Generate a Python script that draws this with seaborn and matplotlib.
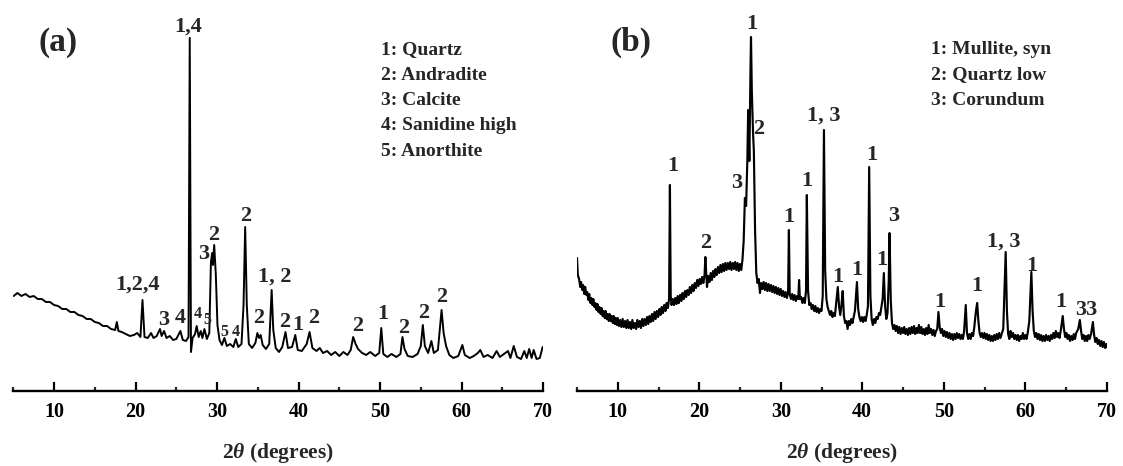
import matplotlib
matplotlib.use('Agg')
import matplotlib.pyplot as plt
import seaborn as sns
import pandas as pd
from matplotlib.ticker import MultipleLocator

# ---- panel (a) trace: 2theta (deg) and intensity (a.u.) ----
a_theta = [
    5.05, 5.5, 6.0, 6.5, 7.0, 7.5, 8.0, 8.5, 9.0, 9.5,
    10.0, 10.5, 11.0, 11.5, 12.0, 12.5, 13.0, 13.5, 14.0, 14.5,
    15.0, 15.5, 16.0, 16.5, 17.0, 17.5, 17.7, 17.9, 18.3, 18.8,
    19.3, 19.8, 20.2, 20.6, 20.85, 21.1, 21.5, 21.9, 22.2, 22.6,
    23.0, 23.2, 23.5, 23.8, 24.2, 24.6, 25.0, 25.5, 25.8, 26.2,
    26.5, 26.65, 26.8, 27.0, 27.3, 27.5, 27.75, 28.0, 28.2, 28.45,
    28.75, 29.05, 29.25, 29.4, 29.5, 29.65, 29.85, 30.05, 30.3, 30.6,
    30.9, 31.2, 31.6, 32.0, 32.3, 32.6, 33.0, 33.25, 33.45, 33.65,
    33.9, 34.3, 34.7, 34.95, 35.15, 35.35, 35.6, 36.0, 36.4, 36.7,
    36.9, 37.2, 37.6, 38.0, 38.4, 38.7, 39.2, 39.6, 39.9, 40.4,
    41.0, 41.35, 41.7, 42.2, 42.6, 43.0, 43.5, 44.0, 44.5, 45.0,
    45.5, 46.0, 46.4, 46.7, 47.0, 47.3, 47.8, 48.3, 48.8, 49.4,
    49.9, 50.15, 50.4, 50.9, 51.4, 52.0, 52.5, 52.75, 53.0, 53.4,
    54.0, 54.6, 55.0, 55.25, 55.5, 55.9, 56.3, 56.6, 57.1, 57.55,
    57.8, 58.1, 58.5, 59.0, 59.6, 60.1, 60.4, 61.0, 61.5, 62.0,
    62.3, 62.7, 63.2, 63.8, 64.3, 64.7, 65.2, 65.7, 66.0, 66.4,
    66.8, 67.3, 67.7, 68.0, 68.3, 68.6, 68.85, 69.2, 69.6, 69.95,
]
a_int = [
    95, 98, 95, 97, 94, 95, 92, 92, 89, 89,
    86, 85, 82, 82, 79, 79, 76, 75, 72, 72,
    69, 68, 65, 65, 62, 61, 69, 60, 59, 57,
    55, 56, 58, 54, 91, 54, 53, 58, 53, 55,
    62, 55, 60, 53, 55, 51, 52, 60, 51, 50,
    54, 353, 39, 53, 57, 65, 54, 60, 53, 62,
    52, 58, 129, 138, 126, 146, 116, 66, 51, 46,
    53, 45, 47, 44, 52, 44, 47, 86, 164, 86,
    47, 43, 48, 58, 53, 56, 46, 42, 47, 101,
    61, 43, 39, 44, 59, 43, 44, 56, 41, 40,
    47, 59, 43, 40, 43, 38, 40, 36, 39, 35,
    39, 36, 41, 54, 47, 42, 38, 36, 39, 35,
    38, 63, 37, 34, 37, 34, 37, 54, 42, 35,
    34, 37, 45, 66, 45, 38, 50, 38, 41, 81,
    58, 45, 36, 33, 35, 46, 36, 33, 35, 38,
    41, 34, 36, 33, 40, 34, 37, 40, 33, 45,
    34, 32, 40, 33, 42, 33, 41, 32, 33, 44,
]

# ---- panel (b) trace ----
b_theta = [
    5.0, 5.1, 5.25, 5.4, 5.5, 5.65, 5.75, 5.9, 6.0, 6.15,
    6.25, 6.4, 6.5, 6.65, 6.75, 6.9, 7.0, 7.15, 7.25, 7.4,
    7.5, 7.65, 7.75, 7.9, 8.0, 8.15, 8.25, 8.4, 8.5, 8.65,
    8.75, 8.9, 9.0, 9.15, 9.25, 9.4, 9.5, 9.65, 9.75, 9.9,
    10.0, 10.15, 10.3, 10.45, 10.6, 10.75, 10.9, 11.05, 11.2, 11.35,
    11.5, 11.65, 11.8, 11.95, 12.1, 12.25, 12.4, 12.55, 12.7, 12.85,
    13.0, 13.15, 13.3, 13.45, 13.6, 13.75, 13.9, 14.05, 14.2, 14.35,
    14.5, 14.65, 14.8, 14.95, 15.1, 15.25, 15.4, 15.55, 15.7, 15.85,
    16.0, 16.15, 16.3, 16.4, 16.5, 16.6, 16.75, 16.9, 17.05, 17.2,
    17.35, 17.5, 17.65, 17.8, 17.95, 18.1, 18.25, 18.4, 18.55, 18.7,
    18.85, 19.0, 19.15, 19.3, 19.45, 19.6, 19.75, 19.9, 20.05, 20.2,
    20.35, 20.5, 20.65, 20.75, 20.85, 20.95, 21.1, 21.25, 21.4, 21.55,
    21.7, 21.85, 22.0, 22.15, 22.3, 22.45, 22.6, 22.75, 22.9, 23.05,
    23.2, 23.35, 23.5, 23.65, 23.8, 23.95, 24.1, 24.25, 24.4, 24.55,
    24.7, 24.85, 25.0, 25.15, 25.3, 25.45, 25.6, 25.75, 25.9, 26.0,
    26.15, 26.3, 26.35, 26.45, 26.6, 26.7, 26.85, 27.0, 27.15, 27.3,
    27.45, 27.6, 27.75, 27.9, 28.05, 28.2, 28.35, 28.5, 28.65, 28.8,
    28.95, 29.1, 29.25, 29.4, 29.55, 29.7, 29.85, 30.0, 30.15, 30.3,
    30.45, 30.6, 30.75, 30.9, 31.0, 31.1, 31.25, 31.4, 31.55, 31.7,
    31.85, 32.0, 32.15, 32.25, 32.35, 32.5, 32.65, 32.8, 32.95, 33.1,
    33.2, 33.35, 33.5, 33.65, 33.8, 33.95, 34.1, 34.25, 34.4, 34.55,
    34.7, 34.85, 35.0, 35.15, 35.3, 35.45, 35.6, 35.75, 35.9, 36.05,
    36.2, 36.35, 36.5, 36.65, 36.8, 37.0, 37.15, 37.3, 37.45, 37.6,
    37.75, 37.9, 38.05, 38.2, 38.35, 38.5, 38.65, 38.8, 38.95, 39.1,
    39.35, 39.5, 39.65, 39.8, 39.95, 40.1, 40.25, 40.4, 40.55, 40.7,
    40.85, 41.0, 41.15, 41.3, 41.45, 41.6, 41.75, 41.9, 42.05, 42.2,
    42.35, 42.5, 42.65, 42.8, 42.95, 43.1, 43.25, 43.35, 43.5, 43.65,
    43.8, 43.95, 44.1, 44.25, 44.4, 44.55, 44.7, 44.85, 45.0, 45.15,
    45.3, 45.45, 45.6, 45.75, 45.9, 46.05, 46.2, 46.35, 46.5, 46.65,
    46.8, 46.95, 47.1, 47.25, 47.4, 47.55, 47.7, 47.85, 48.0, 48.15,
    48.3, 48.45, 48.6, 48.75, 48.9, 49.05, 49.2, 49.35, 49.5, 49.65,
    49.8, 49.95, 50.1, 50.25, 50.4, 50.55, 50.7, 50.85, 51.0, 51.15,
    51.3, 51.45, 51.6, 51.75, 51.9, 52.05, 52.2, 52.35, 52.5, 52.7,
    52.85, 53.0, 53.15, 53.3, 53.45, 53.6, 53.75, 53.95, 54.1, 54.25,
    54.4, 54.55, 54.7, 54.85, 55.0, 55.15, 55.3, 55.45, 55.6, 55.75,
    55.9, 56.05, 56.2, 56.35, 56.5, 56.65, 56.8, 56.95, 57.1, 57.3,
    57.45, 57.6, 57.75, 57.9, 58.05, 58.2, 58.35, 58.5, 58.65, 58.8,
    58.95, 59.1, 59.25, 59.4, 59.55, 59.7, 59.85, 60.0, 60.15, 60.3,
    60.5, 60.75, 60.9, 61.05, 61.2, 61.35, 61.5, 61.65, 61.8, 61.95,
    62.1, 62.25, 62.4, 62.55, 62.7, 62.85, 63.0, 63.15, 63.3, 63.45,
    63.6, 63.75, 63.9, 64.05, 64.2, 64.35, 64.6, 64.75, 64.9, 65.05,
    65.2, 65.35, 65.5, 65.65, 65.8, 65.95, 66.1, 66.25, 66.5, 66.7,
    66.85, 67.0, 67.15, 67.3, 67.45, 67.6, 67.75, 67.9, 68.1, 68.3,
    68.45, 68.6, 68.75, 68.9, 69.05, 69.2, 69.35, 69.5, 69.65, 69.8,
    69.95, 70.0,
]
b_int = [
    133, 116, 112, 104, 109, 101, 106, 97, 104, 96,
    99, 91, 97, 88, 93, 86, 92, 84, 88, 81,
    87, 79, 84, 77, 83, 75, 80, 73, 80, 72,
    77, 70, 77, 70, 75, 68, 75, 67, 73, 66,
    73, 65, 71, 64, 72, 64, 70, 63, 71, 63,
    69, 62, 71, 63, 68, 62, 71, 64, 70, 63,
    72, 65, 72, 66, 74, 67, 75, 69, 77, 70,
    79, 72, 80, 74, 82, 76, 84, 78, 86, 80,
    88, 83, 92, 206, 95, 86, 92, 86, 93, 87,
    95, 88, 96, 90, 98, 92, 100, 94, 101, 96,
    104, 98, 106, 100, 108, 103, 111, 105, 112, 107,
    114, 108, 116, 134, 118, 104, 115, 109, 118, 111,
    120, 114, 122, 116, 124, 118, 126, 119, 127, 120,
    128, 121, 128, 122, 129, 121, 128, 122, 129, 121,
    128, 120, 127, 121, 131, 150, 193, 185, 230, 281,
    230, 330, 354, 300, 258, 240, 160, 118, 108, 112,
    98, 108, 102, 109, 101, 108, 100, 107, 100, 106,
    99, 105, 98, 104, 97, 103, 96, 102, 95, 100,
    94, 99, 93, 98, 161, 97, 92, 97, 91, 96,
    90, 95, 92, 111, 92, 94, 88, 93, 88, 100,
    196, 100, 86, 88, 82, 86, 80, 85, 79, 83,
    78, 82, 80, 95, 261, 120, 92, 84, 80, 76,
    80, 74, 78, 75, 88, 104, 85, 76, 86, 100,
    75, 68, 70, 62, 70, 66, 72, 68, 74, 80,
    109, 82, 74, 70, 74, 69, 74, 70, 76, 85,
    224, 95, 72, 66, 72, 68, 74, 72, 78, 76,
    84, 92, 118, 85, 72, 78, 110, 158, 90, 68,
    62, 66, 60, 65, 58, 64, 57, 63, 58, 64,
    57, 62, 56, 63, 57, 64, 58, 65, 57, 63,
    58, 66, 58, 64, 57, 62, 56, 63, 57, 66,
    58, 62, 56, 61, 55, 60, 62, 79, 64, 58,
    62, 55, 60, 54, 59, 53, 58, 52, 57, 51,
    57, 52, 58, 53, 57, 52, 56, 52, 60, 86,
    58, 52, 57, 52, 58, 55, 64, 80, 88, 70,
    58, 54, 58, 53, 58, 52, 57, 51, 56, 50,
    55, 50, 56, 51, 57, 52, 58, 53, 57, 62,
    100, 139, 80, 57, 52, 60, 54, 58, 52, 56,
    51, 56, 50, 55, 52, 58, 52, 56, 52, 58,
    70, 119, 80, 60, 54, 58, 52, 57, 51, 56,
    50, 55, 50, 56, 51, 55, 50, 56, 52, 58,
    53, 60, 54, 58, 53, 60, 75, 62, 54, 58,
    52, 56, 50, 55, 51, 57, 52, 58, 62, 71,
    60, 52, 56, 50, 55, 50, 56, 52, 58, 69,
    56, 49, 53, 47, 51, 45, 50, 44, 49, 43,
    47, 44,
]

# ---- peak labels (text, 2theta, intensity) ----
a_peak_text = ["1,4", "1,2,4", "3", "4", "3", "2", "2", "1, 2", "2", "2",
               "1", "2", "2", "1", "2", "2", "2"]
a_peak_x = [26.4, 20.2, 23.5, 25.45, 28.3, 29.6, 33.55, 37.1, 35.1, 38.3,
            39.9, 41.8, 47.2, 50.3, 52.9, 55.4, 57.6]
a_peak_y = [364, 106, 71, 73, 137, 156, 175, 114, 73, 69,
            66, 73, 65, 77, 63, 78, 94]
a_minor_text = ["4", "5", "5", "4"]
a_minor_x = [27.65, 28.8, 30.85, 32.3]
a_minor_y = [77, 71, 59, 59]

b_peak_text = ["1", "2", "3", "1", "2", "1", "1", "1, 3", "1", "1",
               "1", "1", "3", "1", "1", "1, 3", "1", "1", "33"]
b_peak_x = [16.8, 20.8, 24.6, 26.5, 27.3, 31.0, 33.2, 35.3, 37.0, 39.35,
            41.2, 42.4, 43.8, 49.5, 54.1, 57.4, 60.8, 64.4, 67.45]
b_peak_y = [225, 148, 208, 367, 262, 174, 210, 275, 114, 121,
            236, 131, 175, 89, 105, 149, 125, 89, 81]

a_phases = ["1: Quartz", "2: Andradite", "3: Calcite", "4: Sanidine high", "5: Anorthite"]
b_phases = ["1: Mullite, syn", "2: Quartz low", "3: Corundum"]

sns.set_style('white')
plt.rcParams['font.family'] = ['Liberation Serif', 'DejaVu Serif']
plt.rcParams['font.weight'] = 'bold'
plt.rcParams['mathtext.fontset'] = 'custom'
plt.rcParams['mathtext.rm'] = 'Liberation Serif:bold'
plt.rcParams['mathtext.it'] = 'Liberation Serif:italic:bold'

W, H = 1123, 466
AX_H = 391


def draw_panel(ax, theta, inten, texts, xs, ys, phases, phase_x, tag, tag_x, lw):
    df = pd.DataFrame({'theta': theta, 'intensity': inten})
    sns.lineplot(data=df, x='theta', y='intensity', ax=ax, color='black',
                 linewidth=lw, estimator=None, sort=False)
    ax.set_xlim(5, 70)
    ax.set_ylim(0, AX_H)
    sns.despine(ax=ax, left=True)
    ax.spines['bottom'].set_linewidth(1.7)
    ax.spines['bottom'].set_color('black')
    ax.xaxis.set_major_locator(MultipleLocator(10))
    ax.xaxis.set_minor_locator(MultipleLocator(5))
    ax.tick_params(axis='x', which='major', bottom=True, direction='in',
                   length=6.5, width=1.6, pad=8, labelsize=14.5, colors='black')
    ax.tick_params(axis='x', which='minor', bottom=True, direction='in',
                   length=3, width=1.6)
    ax.set_yticks([])
    ax.set_xlabel('')
    ax.set_ylabel('')
    for s, x, y in zip(texts, xs, ys):
        ax.text(x, y, s, ha='center', va='center', fontsize=16,
                fontweight='bold')
    for i, p in enumerate(phases):
        ax.text(phase_x, (AX_H - (49.5 + 25.5 * i)) / AX_H, p,
                transform=ax.transAxes, ha='left', va='center',
                fontsize=14, fontweight='bold')
    ax.text(tag_x, (AX_H - 42.5) / AX_H, tag, transform=ax.transAxes,
            ha='center', va='center', fontsize=24, fontweight='bold')


fig = plt.figure(figsize=(W / 100, H / 100), dpi=100)
ax_w = 529.75 / W
ax_a = fig.add_axes([13.3 / W, (H - AX_H) / H, ax_w, AX_H / H])
ax_b = fig.add_axes([577 / W, (H - AX_H) / H, ax_w, AX_H / H])

draw_panel(ax_a, a_theta, a_int, a_peak_text, a_peak_x, a_peak_y,
           a_phases, 0.694, '(a)', 0.0853, 1.4)
for s, x, y in zip(a_minor_text, a_minor_x, a_minor_y):
    ax_a.text(x, y, s, ha='center', va='center', fontsize=11.5,
              fontweight='bold')
draw_panel(ax_b, b_theta, b_int, b_peak_text, b_peak_x, b_peak_y,
           b_phases, 0.668, '(b)', 0.102, 1.55)

fig.text((13.3 + 264.9) / W, 1 - 453 / H, r'2$\theta$ (degrees)',
         ha='center', va='center', fontsize=15.5, fontweight='bold')
fig.text((577 + 264.9) / W, 1 - 453 / H, r'2$\theta$ (degrees)',
         ha='center', va='center', fontsize=15.5, fontweight='bold')

fig.savefig('out.png', dpi=100, facecolor='white')
